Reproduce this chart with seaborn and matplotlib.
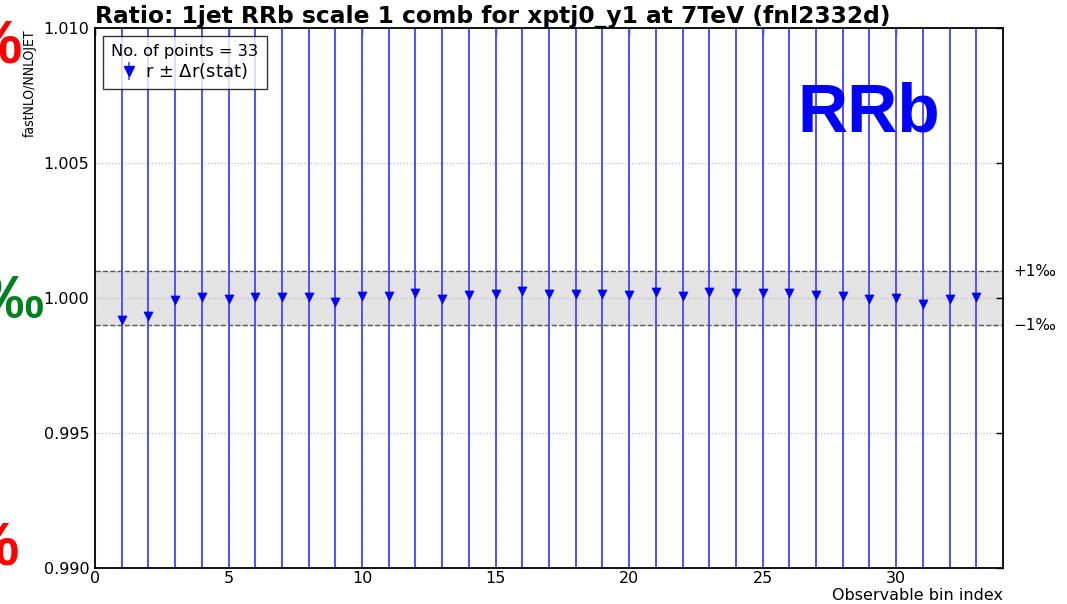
import matplotlib
matplotlib.use("Agg")
import matplotlib.pyplot as plt
import seaborn as sns
import pandas as pd

# ---- data ----
bins = list(range(1, 34))
ratio = [0.99917, 0.99932, 0.99993, 1.00005, 0.99996, 1.00002, 1.00002, 1.00004,
         0.99985, 1.00007, 1.00007, 1.00020, 0.99995, 1.00010, 1.00013, 1.00026,
         1.00015, 1.00015, 1.00016, 1.00010, 1.00022, 1.00007, 1.00021, 1.00018,
         1.00017, 1.00020, 1.00010, 1.00006, 0.99995, 0.99999, 0.99977, 0.99995,
         1.00005]
dr_stat = [0.05] * 33
xticks = [0, 5, 10, 15, 20, 25, 30]
yticks = [0.990, 0.995, 1.000, 1.005, 1.010]
title = "Ratio: 1jet RRb scale 1 comb for xptj0_y1 at 7TeV (fnl2332d)"

df = pd.DataFrame({"bin": bins, "ratio": ratio, "err": dr_stat})

sns.set_style("white")
plt.rcParams["font.family"] = ["DejaVu Sans"]
plt.rcParams.update({"text.color": "black", "axes.labelcolor": "black",
                     "xtick.color": "black", "ytick.color": "black"})

fig = plt.figure(figsize=(10.67, 6.04), dpi=100)
ax = fig.add_axes([95/1067, 1 - 568/604, (1003 - 95)/1067, (568 - 28)/604])

# band +-1 permille
ax.axhspan(0.999, 1.001, color="#e3e3e3", zorder=0)
ax.axhline(1.001, color="#555555", ls="--", lw=1.0, zorder=1)
ax.axhline(0.999, color="#555555", ls="--", lw=1.0, zorder=1)

ax.errorbar(df["bin"], df["ratio"], yerr=df["err"], fmt="none",
            ecolor="#5050ff", elinewidth=1.4, capsize=3, zorder=2)
sns.scatterplot(data=df, x="bin", y="ratio", marker="v", color="blue",
                s=42, edgecolor="blue", linewidth=0.5, ax=ax, zorder=3, legend=False)

proxy = ax.errorbar([], [], yerr=[], fmt="v", color="blue", ecolor="#5050ff",
                    markersize=7, capsize=3, elinewidth=1.2)

ax.set_xlim(0, 34)
ax.set_ylim(0.990, 1.010)
ax.set_xticks(xticks)
ax.set_yticks(yticks)
ax.set_yticklabels([f"{v:.3f}" for v in yticks])
ax.tick_params(direction="in", top=True, right=True, length=5, width=1,
               labelsize=11.5, colors="black")
ax.tick_params(axis="x", pad=2)
ax.tick_params(axis="y", pad=4)
ax.grid(True, ls=":", color="#bbbbbb", lw=0.9)
ax.set_axisbelow(True)
for sp in ax.spines.values():
    sp.set_color("black")
    sp.set_linewidth(1.3)
    sp.set_visible(True)

ax.set_xlabel("")
ax.set_ylabel("")
fig.text(1003/1067, 1 - 595/604, "Observable bin index", ha="right", va="center",
         fontsize=11.5)
fig.text(30/1067, 1 - 29/604, "fastNLO/NNLOJET", rotation=90, ha="center", va="top",
         fontsize=10, fontstretch="condensed")
fig.text(95/1067, 1 - 23/604, title, ha="left", va="baseline", fontsize=16.8,
         fontweight="bold")

leg = ax.legend([proxy], ["r $\\pm$ $\\Delta$r(stat)"], title="No. of points = 33",
                loc="upper left", fontsize=13, title_fontsize=11.7, frameon=True,
                fancybox=False, edgecolor="black", borderaxespad=0.45,
                borderpad=0.45, labelspacing=0.1,
                handlelength=0.8, handletextpad=0.5)
leg.get_frame().set_linewidth(1.0)

ax.text(1.011, 1.001, "+1‰", transform=ax.get_yaxis_transform(), ha="left",
        va="center", fontsize=11)
ax.text(1.011, 0.999, "\u22121‰", transform=ax.get_yaxis_transform(), ha="left",
        va="center", fontsize=11)

# overlay annotations
fig.text(797/1067, 1 - 132/604, "RRb", color="blue", fontsize=50,
         fontweight="bold", family="Liberation Sans", ha="left", va="baseline")
fig.text(22/1067, 1 - 63/604, "%", color="red", fontsize=44, fontweight="bold",
         family="Liberation Sans", ha="right", va="baseline")
fig.text(44/1067, 1 - 318/604, "‰", color="#008020", fontsize=44, fontweight="bold",
         family="Liberation Sans", ha="right", va="baseline")
fig.text(19/1067, 1 - 565/604, "%", color="red", fontsize=44, fontweight="bold",
         family="Liberation Sans", ha="right", va="baseline")

fig.savefig("out.png", dpi=100)
